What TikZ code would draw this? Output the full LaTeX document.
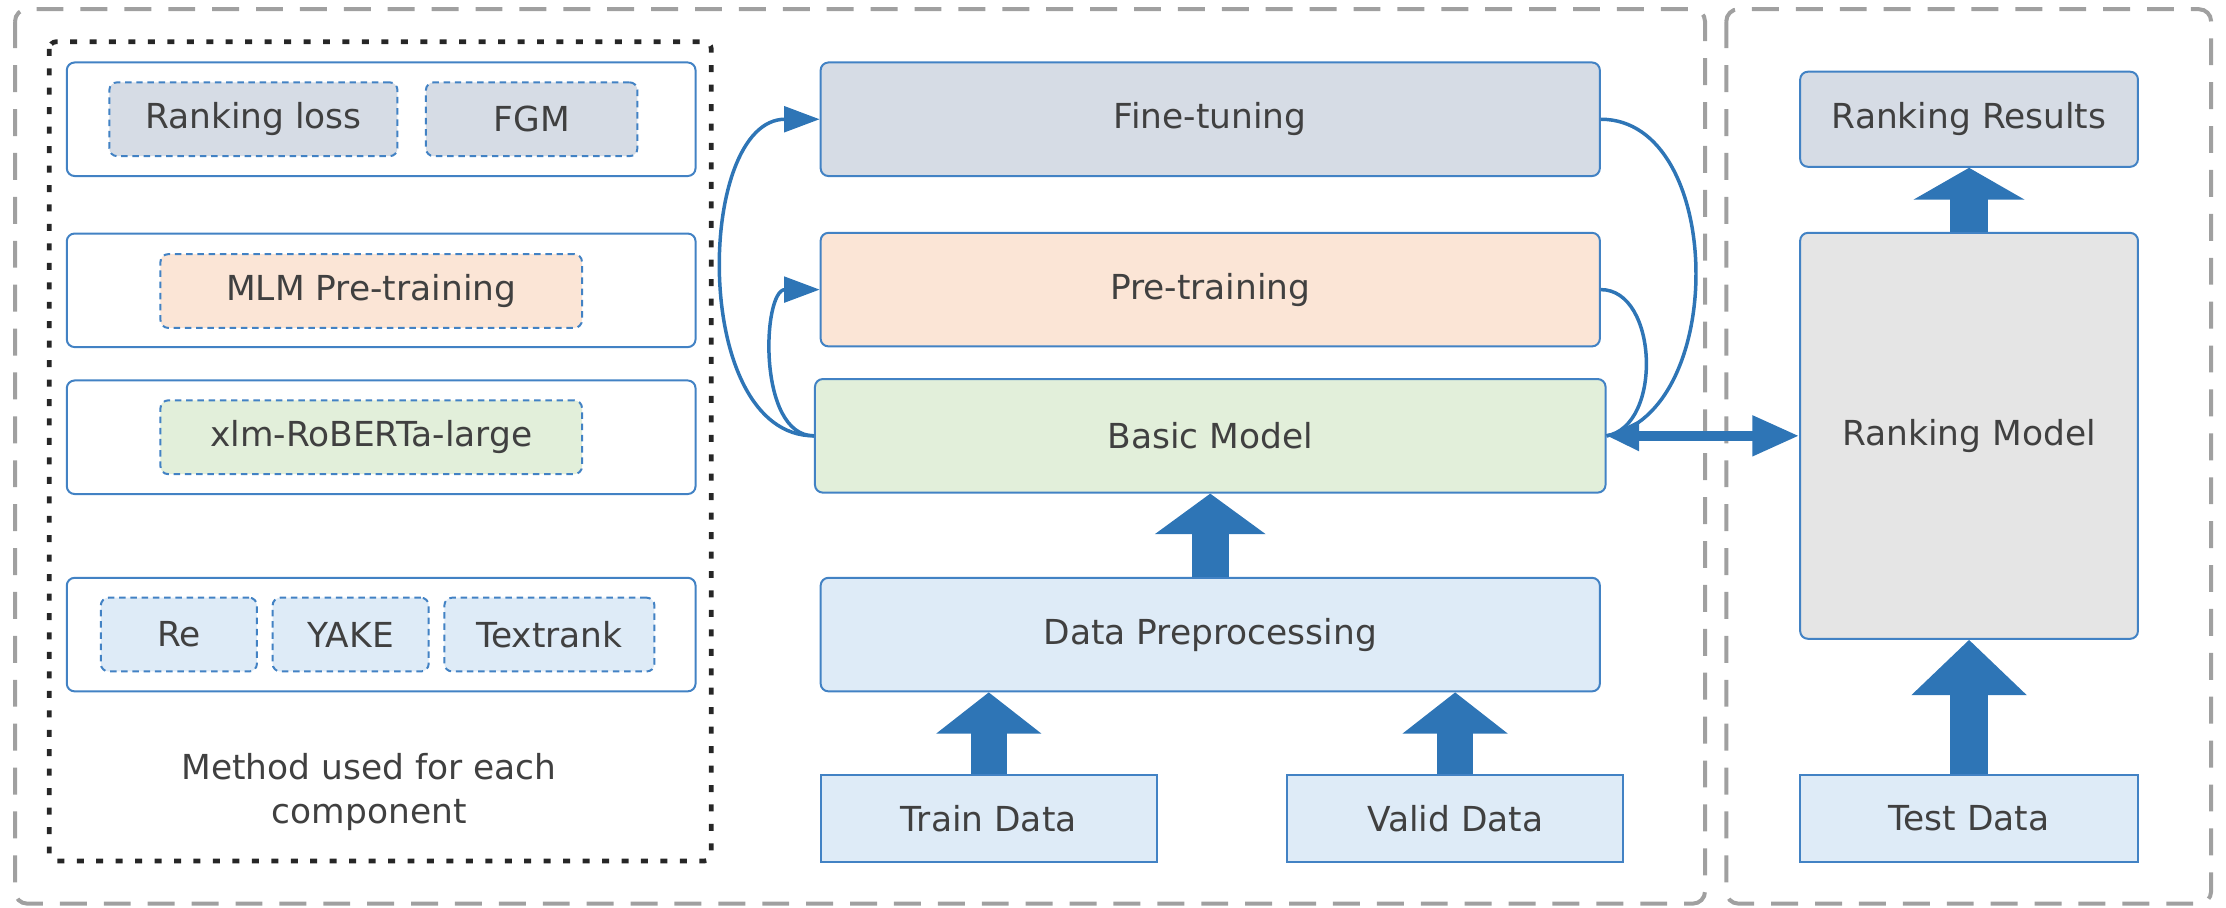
\documentclass[tikz,border=0pt]{standalone}
\usepackage{fontspec}
\setmainfont{DejaVu Sans}
\usetikzlibrary{arrows.meta}
\definecolor{lineblue}{RGB}{66,130,196}
\definecolor{arrowblue}{RGB}{46,117,182}
\definecolor{fillslate}{RGB}{214,220,229}
\definecolor{fillpeach}{RGB}{251,229,214}
\definecolor{fillgreen}{RGB}{226,239,218}
\definecolor{fillblue}{RGB}{222,235,247}
\definecolor{fillgray}{RGB}{229,229,229}
\definecolor{framegray}{RGB}{160,160,160}
\definecolor{textgray}{RGB}{64,64,64}
\tikzset{
  base/.style={draw=lineblue, line width=0.8pt, rounded corners=0.11cm,
    text=textgray, inner sep=0pt, align=center},
  stage/.style={base, minimum width=10.98cm, minimum height=1.6cm},
  datain/.style={base, rounded corners=0pt, fill=fillblue,
    minimum width=4.74cm, minimum height=1.22cm},
  group/.style={base, fill=white, minimum width=8.86cm, minimum height=1.6cm},
  method/.style={base, dash pattern=on 2.6pt off 1.9pt, minimum height=1.04cm},
  frame/.style={draw=framegray, line width=1.6pt, dash pattern=on 10.8pt off 6.8pt,
    rounded corners=0.17cm},
  blockarrow/.style={draw=arrowblue, line width=0.52cm},
  loopcurve/.style={draw=arrowblue, line width=1.4pt,
    -{Triangle[length=0.5cm,width=0.36cm]}},
  backcurve/.style={draw=arrowblue, line width=1.4pt}
}
\begin{document}
\begin{tikzpicture}[x=0.02cm, y=-0.02cm, font=\fontsize{13.8pt}{17.6pt}\selectfont]
  \useasboundingbox (0,0) rectangle (1568,639);
  % frames
  \draw[frame] (10.6,6.5) rectangle (1201,636.5);
  \draw[frame] (1216,6.5) rectangle (1557.5,636.5);
  \draw[black!85, line width=1.9pt, dash pattern=on 2.8pt off 5pt, rounded corners=0.1cm]
    (34.7,29.4) rectangle (501,606.5);
  % methods for each component
  \node[group] (grpA) at (268.5,84) {};
  \node[group] (grpB) at (268.5,204.5) {};
  \node[group] (grpC) at (268.5,308) {};
  \node[group] (grpD) at (268.5,447) {};
  \node[method, fill=fillslate, minimum width=4.06cm] (rloss) at (178.5,84) {Ranking loss};
  \node[method, fill=fillslate, minimum width=2.98cm] (fgm) at (374.5,84) {FGM};
  \node[method, fill=fillpeach, minimum width=5.94cm] (mlm) at (261.5,205) {MLM Pre-training};
  \node[method, fill=fillgreen, minimum width=5.94cm] (xlm) at (261.5,308) {xlm-RoBERTa-large};
  \node[method, fill=fillblue, minimum width=2.2cm] (re) at (126,447) {Re};
  \node[method, fill=fillblue, minimum width=2.2cm] (yake) at (247,447) {YAKE};
  \node[method, fill=fillblue, minimum width=2.96cm] (textrank) at (387,447) {Textrank};
  \node[text=textgray, align=center] (caption) at (260,558) {Method used for each\\component};
  % training pipeline
  \node[stage, fill=fillslate] (fine) at (852.5,84) {Fine-tuning};
  \node[stage, fill=fillpeach] (pre) at (852.5,204) {Pre-training};
  \node[stage, fill=fillgreen, minimum width=11.14cm] (basic) at (852.5,307) {Basic Model};
  \node[stage, fill=fillblue] (prep) at (852.5,447) {Data Preprocessing};
  \node[datain] (train) at (696.5,576.5) {Train Data};
  \node[datain] (valid) at (1025,576.5) {Valid Data};
  % ranking
  \node[base, fill=fillslate, minimum width=4.76cm, minimum height=1.34cm] (results) at (1387,84) {Ranking Results};
  \node[base, fill=fillgray, minimum width=4.76cm, minimum height=5.72cm] (rank) at (1387,307) {Ranking Model};
  \node[datain, minimum width=4.76cm] (test) at (1387,576.5) {Test Data};
  % block arrows
  \draw[blockarrow, -{Triangle[length=0.57cm,width=1.53cm]}] (prep.north) -- (basic.south);
  \draw[blockarrow, line width=0.5cm, -{Triangle[length=0.58cm,width=1.45cm]}]
    (train.north) -- (train.north |- prep.south);
  \draw[blockarrow, line width=0.5cm, -{Triangle[length=0.58cm,width=1.45cm]}]
    (valid.north) -- (valid.north |- prep.south);
  \draw[blockarrow, line width=0.54cm, -{Triangle[length=0.45cm,width=1.55cm]}] (rank.north) -- (results.south);
  \draw[blockarrow, line width=0.54cm, -{Triangle[length=0.78cm,width=1.58cm]}] (test.north) -- (rank.south);
  % loops round the basic model
  \draw[loopcurve] (basic.west) to[out=180, in=180] (fine.west);
  \draw[loopcurve] (basic.west) to[out=180, in=180] (pre.west);
  \draw[backcurve] (fine.east) to[out=0, in=10] (basic.east);
  \draw[backcurve] (pre.east) to[out=0, in=10] (basic.east);
  \draw[draw=arrowblue, line width=0.14cm,
    {Triangle[length=0.46cm,width=0.4cm]}-{Triangle[length=0.66cm,width=0.54cm]}]
    (basic.east) -- (rank.west);
\end{tikzpicture}
\end{document}
